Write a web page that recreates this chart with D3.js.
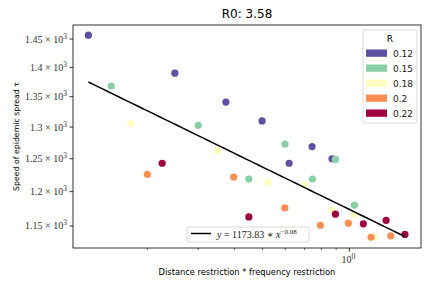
<!DOCTYPE html>
<html>
<head>
<meta charset="utf-8">
<script src="https://cdn.jsdelivr.net/npm/d3@7"></script>
<style>
  body { margin: 0; background: #fff; }
  svg { display: block; }
</style>
</head>
<body>
<script>
// values
var rLevels = ["0.12", "0.15", "0.18", "0.2", "0.22"];
var rColors = ["#5e4fa2", "#88d0a4", "#fffebe", "#f98e52", "#9e0142"];

var x012 = [0.125, 0.249, 0.374, 0.499, 0.743, 0.619, 0.871];
var y012 = [1457, 1390, 1341, 1310, 1269, 1243, 1250];
var x015 = [0.150, 0.300, 0.599, 0.449, 0.745, 0.895, 1.041];
var y015 = [1368, 1303, 1273, 1219, 1219, 1249, 1180];
var x018 = [0.175, 0.349, 0.522, 0.697, 0.869, 1.041, 1.218];
var y018 = [1306, 1263, 1214, 1210, 1173, 1166, 1134];
var x020 = [0.200, 0.398, 0.598, 0.794, 0.992, 1.189, 1.391];
var y020 = [1226, 1222, 1176, 1151, 1154, 1134, 1136];
var x022 = [0.225, 0.449, 0.895, 1.118, 1.340, 1.558];
var y022 = [1243, 1163, 1167, 1153, 1158, 1138];

var seriesX = [x012, x015, x018, x020, x022];
var seriesY = [y012, y015, y018, y020, y022];

var yTicks = [1150, 1200, 1250, 1300, 1350, 1400, 1450];
var yTickText = ["1.15", "1.2", "1.25", "1.3", "1.35", "1.4", "1.45"];
var xMinorTicks = [0.2, 0.3, 0.4, 0.5, 0.6, 0.7, 0.8, 0.9];
var xMajorTicks = [1];

var fitA = 1173.83, fitB = -0.076;
var fitLabelExp = "\u22120.08";

var W = 432, H = 288;
var margin = {top: 25, right: 11, bottom: 40, left: 73};

var svg = d3.select("body").append("svg")
    .attr("width", W)
    .attr("height", H);

var x = d3.scaleLog()
    .domain([0.1106, 1.77])
    .range([margin.left, W - margin.right]);
var y = d3.scaleLog()
    .domain([1119, 1475.5])
    .range([H - margin.bottom, margin.top]);

var serif = "'Liberation Serif', 'DejaVu Serif', serif";
var sans = "'DejaVu Sans', sans-serif";

// y ticks
var yAx = svg.append("g");
yTicks.forEach(function(t, i) {
    var py = y(t);
    yAx.append("line")
        .attr("x1", margin.left - 3.5).attr("x2", margin.left)
        .attr("y1", py).attr("y2", py)
        .attr("stroke", "#000").attr("stroke-width", 0.8);
    var txt = yAx.append("text")
        .attr("x", margin.left - 6)
        .attr("y", py + 3.5)
        .attr("text-anchor", "end")
        .attr("font-family", serif)
        .attr("font-size", 10)
        .attr("fill", "#333");
    txt.append("tspan").text(yTickText[i] + " \u00d7 10");
    txt.append("tspan").attr("dy", -4).attr("font-size", 7.5).text("3");
});

// x ticks
xMinorTicks.forEach(function(t) {
    svg.append("line")
        .attr("x1", x(t)).attr("x2", x(t))
        .attr("y1", H - margin.bottom).attr("y2", H - margin.bottom + 2)
        .attr("stroke", "#000").attr("stroke-width", 0.6);
});
xMajorTicks.forEach(function(t) {
    svg.append("line")
        .attr("x1", x(t)).attr("x2", x(t))
        .attr("y1", H - margin.bottom).attr("y2", H - margin.bottom + 3.5)
        .attr("stroke", "#000").attr("stroke-width", 0.8);
    var txt = svg.append("text")
        .attr("x", x(t) - 1)
        .attr("y", H - margin.bottom + 15)
        .attr("text-anchor", "middle")
        .attr("font-family", serif)
        .attr("font-size", 10)
        .attr("fill", "#333");
    txt.append("tspan").text("10");
    txt.append("tspan").attr("dy", -4).attr("font-size", 7.5).text("0");
});

// points
seriesX.forEach(function(xs, s) {
    svg.append("g").selectAll("circle")
        .data(xs)
        .enter().append("circle")
        .attr("cx", d => x(d))
        .attr("cy", (d, i) => y(seriesY[s][i]))
        .attr("r", 3.6)
        .attr("fill", rColors[s]);
});

// fitted line
var allX = [].concat.apply([], seriesX);
var xExt = d3.extent(allX);
var fitPts = d3.range(0, 51).map(function(k) {
    var xv = xExt[0] * Math.pow(xExt[1] / xExt[0], k / 50);
    return [xv, fitA * Math.pow(xv, fitB)];
});
svg.append("path")
    .datum(fitPts)
    .attr("fill", "none")
    .attr("stroke", "#000")
    .attr("stroke-width", 1.5)
    .attr("d", d3.line().x(d => x(d[0])).y(d => y(d[1])));

// frame
svg.append("rect")
    .attr("x", margin.left).attr("y", margin.top)
    .attr("width", W - margin.left - margin.right)
    .attr("height", H - margin.top - margin.bottom)
    .attr("fill", "none")
    .attr("stroke", "#000").attr("stroke-width", 0.8);

// title & axis labels
svg.append("text")
    .attr("x", (margin.left + W - margin.right) / 2)
    .attr("y", 18)
    .attr("text-anchor", "middle")
    .attr("font-family", sans)
    .attr("font-size", 12)
    .text("R0: 3.58");

svg.append("text")
    .attr("x", (margin.left + W - margin.right) / 2)
    .attr("y", 275)
    .attr("text-anchor", "middle")
    .attr("font-family", sans)
    .attr("font-size", 8.3)
    .text("Distance restriction * frequency restriction");

svg.append("text")
    .attr("transform", "translate(19," + ((margin.top + H - margin.bottom) / 2) + ") rotate(-90)")
    .attr("text-anchor", "middle")
    .attr("font-family", sans)
    .attr("font-size", 7.8)
    .text("Speed of epidemic spread \u03c4");

// R legend
var leg = svg.append("g").attr("transform", "translate(363,30)");
leg.append("rect")
    .attr("width", 54).attr("height", 93)
    .attr("rx", 2)
    .attr("fill", "#fff").attr("fill-opacity", 0.8)
    .attr("stroke", "#d0d0d0").attr("stroke-width", 0.8);
leg.append("text")
    .attr("x", 27).attr("y", 12)
    .attr("text-anchor", "middle")
    .attr("font-family", sans)
    .attr("font-size", 9)
    .text("R");
rLevels.forEach(function(r, i) {
    leg.append("rect")
        .attr("x", 3).attr("y", 19.5 + i * 15)
        .attr("width", 21).attr("height", 7.3)
        .attr("fill", rColors[i]);
    leg.append("text")
        .attr("x", 30).attr("y", 26.5 + i * 15)
        .attr("font-family", sans)
        .attr("font-size", 9)
        .attr("fill", "#222")
        .text(r);
});

// fit legend
var fl = svg.append("g").attr("transform", "translate(187,227)");
fl.append("rect")
    .attr("width", 122).attr("height", 15)
    .attr("rx", 2)
    .attr("fill", "#fff").attr("fill-opacity", 0.8)
    .attr("stroke", "#d0d0d0").attr("stroke-width", 0.8);
fl.append("line")
    .attr("x1", 4).attr("x2", 24)
    .attr("y1", 6.5).attr("y2", 6.5)
    .attr("stroke", "#000").attr("stroke-width", 1.5);
var ft = fl.append("text")
    .attr("x", 30).attr("y", 11)
    .attr("font-family", serif)
    .attr("font-size", 10)
    .attr("fill", "#222");
ft.append("tspan").attr("font-style", "italic").text("y");
ft.append("tspan").text(" = " + fitA.toFixed(2) + " \u2217 ");
ft.append("tspan").attr("font-style", "italic").text("x");
ft.append("tspan").attr("dy", -4).attr("font-size", 7).text(fitLabelExp);
</script>
</body>
</html>
